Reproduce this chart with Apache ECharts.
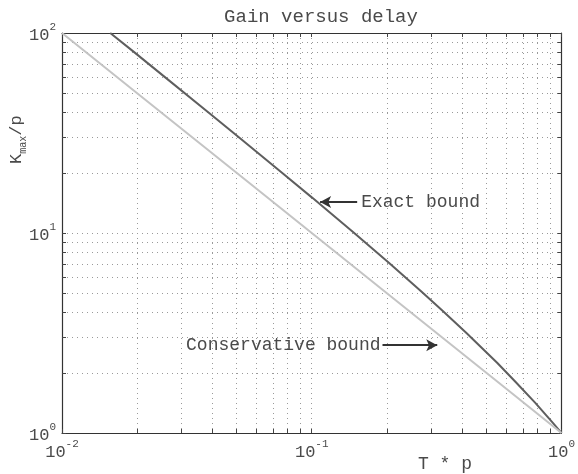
<!DOCTYPE html>
<html>
<head>
<meta charset="utf-8">
<script src="https://cdn.jsdelivr.net/npm/echarts@6/dist/echarts.min.js"></script>
<style>html,body{margin:0;padding:0;background:#fff}#c{width:578px;height:474px}</style>
</head>
<body>
<div id="c"></div>
<script>
// Normalised delay T*p and normalised gain bound Kmax/p
var exactTp   = [0.0156, 0.0195, 0.0259, 0.0386, 0.0512, 0.0760, 0.1003, 0.1471, 0.2041, 0.2747, 0.3315, 0.4163, 0.5536, 0.6552, 0.7854, 0.9273, 0.9870, 1.0];
var exactK    = [100,    80.0,   60.0,   40.0,   30.0,   20.0,   15.03,  10.05,  7.07,   5.10,   4.12,   3.16,   2.24,   1.80,   1.414,  1.118,  1.020,  1.0];
var consTp    = [0.01, 0.02, 0.05, 0.1, 0.2, 0.5, 1.0];
var consK     = [100,  50,   20,   10,  5,   2,   1.0];
var xMajor    = [0.01, 0.1, 1];
var yMajor    = [1, 10, 100];
var xTicks    = [0.01,0.02,0.03,0.04,0.05,0.06,0.07,0.08,0.09,0.1,0.2,0.3,0.4,0.5,0.6,0.7,0.8,0.9,1];
var yTicks    = [1,2,3,4,5,6,7,8,9,10,20,30,40,50,60,70,80,90,100];
var titleText = 'Gain versus delay';
var exactLabel = 'Exact bound';
var consLabel  = 'Conservative bound';
var exactArrow = [[0.152, 14.3], [0.108, 14.3]];
var consArrow  = [[0.192, 2.75], [0.318, 2.75]];

var FONT = '"Liberation Mono","Courier New",monospace';
var TXT = '#4a4a4a';

function pow10Label(v) {
  var e = Math.round(Math.log(v) / Math.LN10);
  return '{b|10}{s|' + e + '}';
}
var richLbl = {
  b: {fontFamily: FONT, fontSize: 17, color: TXT, lineHeight: 22, verticalAlign: 'bottom'},
  s: {fontFamily: FONT, fontSize: 11, color: TXT, verticalAlign: 'top', lineHeight: 22, padding: [0, 0, 10, 0]}
};

function mkAxis(kind, pos, showLabel, ticks, majors, mn, mx) {
  return {
    type: 'log', logBase: 10, min: mn, max: mx, position: pos,
    axisLine: {show: true, onZero: false, lineStyle: {color: '#333', width: 1.2}},
    axisTick: {show: true, inside: true, length: 4, customValues: ticks, lineStyle: {color: '#444'}},
    axisLabel: {show: showLabel, customValues: majors, formatter: pow10Label, rich: richLbl, margin: 6},
    splitLine: {show: showLabel, lineStyle: {type: [1, 4], color: '#9a9a9a', width: 1}},
    minorTick: {show: false}
  };
}

var chart = echarts.init(document.getElementById('c'), null, {renderer: 'canvas'});
chart.setOption({
  animation: false,
  backgroundColor: '#fff',
  title: {text: titleText, left: 316, top: 2, textAlign: 'center',
          textStyle: {fontFamily: FONT, fontSize: 19, fontWeight: 'normal', color: TXT}},
  grid: {left: 62, right: 6, top: 33, bottom: 41, containLabel: false},
  xAxis: [mkAxis('x', 'bottom', true, xTicks, xMajor, 0.01, 1),
          mkAxis('x', 'top', false, xTicks, xMajor, 0.01, 1)],
  yAxis: [mkAxis('y', 'left', true, yTicks, yMajor, 1, 100),
          mkAxis('y', 'right', false, yTicks, yMajor, 1, 100)],
  graphic: [
    {type: 'text', left: 418, top: 455, style: {text: 'T * p', font: '18px ' + FONT, fill: TXT}},
    {type: 'text', x: 8, y: 164, rotation: Math.PI / 2,
     style: {text: '{b|K}{s|max}{b|/p}', rich: {
       b: {fontFamily: FONT, fontSize: 17, fill: TXT, lineHeight: 20, verticalAlign: 'top'},
       s: {fontFamily: FONT, fontSize: 10, fill: TXT, lineHeight: 20, verticalAlign: 'bottom', padding: [8, 0, 0, 0]}}}}
  ],
  series: [
    {name: 'Exact bound', type: 'line', xAxisIndex: 0, yAxisIndex: 0,
     data: exactTp.map(function (t, i) { return [t, exactK[i]]; }),
     showSymbol: false, smooth: false, lineStyle: {color: '#5e5e5e', width: 2},
     markLine: {silent: true, symbol: ['none', 'arrow'], symbolSize: [9, 11],
       lineStyle: {color: '#333', width: 2, type: 'solid'},
       label: {show: true, position: 'start', distance: 4, formatter: exactLabel,
               fontFamily: FONT, fontSize: 18, color: TXT},
       data: [[{coord: exactArrow[0]}, {coord: exactArrow[1]}]]}},
    {name: 'Conservative bound', type: 'line', xAxisIndex: 0, yAxisIndex: 0,
     data: consTp.map(function (t, i) { return [t, consK[i]]; }),
     showSymbol: false, lineStyle: {color: '#c4c4c4', width: 2},
     markLine: {silent: true, symbol: ['none', 'arrow'], symbolSize: [9, 11],
       lineStyle: {color: '#333', width: 2, type: 'solid'},
       label: {show: true, position: 'start', distance: 2, formatter: consLabel,
               fontFamily: FONT, fontSize: 18, color: TXT},
       data: [[{coord: consArrow[0]}, {coord: consArrow[1]}]]}}
  ]
});
</script>
</body>
</html>
